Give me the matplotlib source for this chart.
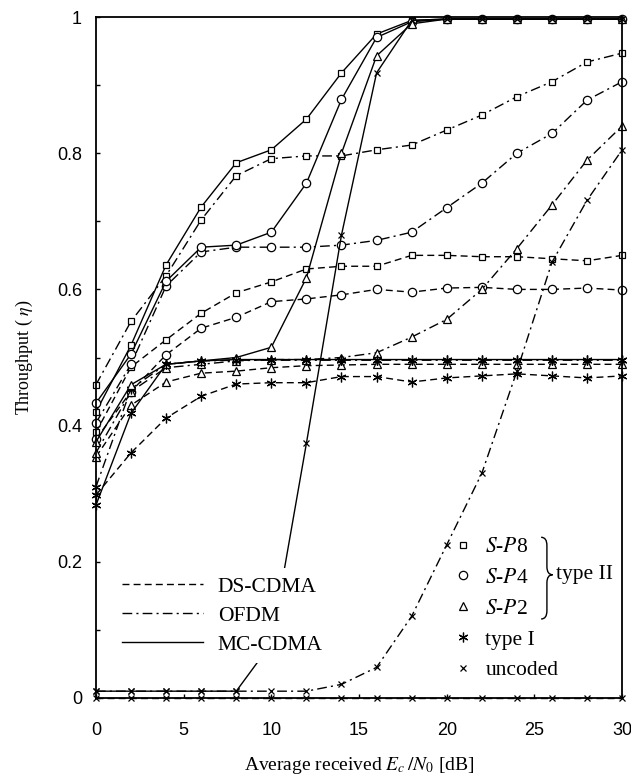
import numpy as np
import matplotlib
matplotlib.use("Agg")
import matplotlib.pyplot as plt
from matplotlib.lines import Line2D
from matplotlib.path import Path
from matplotlib.patches import PathPatch

plt.rcParams['font.family'] = ['Liberation Serif', 'DejaVu Serif']
plt.rcParams['mathtext.fontset'] = 'stix'

# Average received Ec/N0 [dB]
snr = [0, 2, 4, 6, 8, 10, 12, 14, 16, 18, 20, 22, 24, 26, 28, 30]

# DS-CDMA (dashed)
ds_sp8 = [0.39, 0.486, 0.526, 0.565, 0.595, 0.611, 0.630, 0.634, 0.634, 0.650,
          0.650, 0.648, 0.648, 0.645, 0.642, 0.650]
ds_sp4 = [0.38, 0.45, 0.504, 0.543, 0.559, 0.582, 0.586, 0.592, 0.600, 0.596,
          0.602, 0.603, 0.600, 0.600, 0.602, 0.599]
ds_sp2 = [0.354, 0.43, 0.464, 0.477, 0.480, 0.485, 0.488, 0.489, 0.490, 0.490,
          0.490, 0.490, 0.490, 0.490, 0.490, 0.490]
ds_type1 = [0.298, 0.36, 0.411, 0.443, 0.461, 0.463, 0.463, 0.472, 0.472, 0.464,
            0.470, 0.473, 0.476, 0.473, 0.470, 0.473]
ds_uncoded = [0.0] * 16

# OFDM (dash-dot)
of_sp8 = [0.46, 0.553, 0.62, 0.702, 0.767, 0.792, 0.796, 0.796, 0.805, 0.812,
          0.834, 0.856, 0.883, 0.905, 0.934, 0.947]
of_sp4 = [0.404, 0.49, 0.605, 0.655, 0.662, 0.662, 0.662, 0.665, 0.672, 0.684,
          0.720, 0.756, 0.800, 0.829, 0.878, 0.905]
of_sp2 = [0.36, 0.45, 0.485, 0.490, 0.495, 0.497, 0.497, 0.500, 0.507, 0.530,
          0.556, 0.600, 0.660, 0.724, 0.790, 0.840]
of_type1 = [0.31, 0.454, 0.490, 0.495, 0.496, 0.496, 0.496, 0.496, 0.496, 0.496,
            0.496, 0.496, 0.496, 0.496, 0.496, 0.496]
of_uncoded = [0.01, 0.01, 0.01, 0.01, 0.01, 0.01, 0.01, 0.02, 0.045, 0.12,
              0.225, 0.33, 0.48, 0.64, 0.731, 0.805]

# MC-CDMA (solid)
mc_sp8 = [0.42, 0.518, 0.636, 0.721, 0.786, 0.805, 0.850, 0.918, 0.975, 0.995,
          0.997, 0.997, 0.997, 0.997, 0.997, 0.997]
mc_sp4 = [0.433, 0.505, 0.612, 0.662, 0.665, 0.684, 0.756, 0.879, 0.970, 0.993,
          0.997, 0.997, 0.997, 0.997, 0.997, 0.997]
mc_sp2 = [0.376, 0.46, 0.490, 0.495, 0.500, 0.515, 0.617, 0.800, 0.943, 0.990,
          0.997, 0.997, 0.997, 0.997, 0.997, 0.997]
mc_type1 = [0.283, 0.418, 0.490, 0.495, 0.497, 0.497, 0.497, 0.497, 0.497, 0.497,
            0.497, 0.497, 0.497, 0.497, 0.497, 0.497]
mc_uncoded = [0.01, 0.01, 0.01, 0.01, 0.01, 0.08, 0.374, 0.68, 0.918, 0.995,
              0.997, 0.997, 0.997, 0.997, 0.997, 0.997]

DASH = (0, (5, 3))
DASHDOT = (0, (7, 3, 1.5, 3))
SOLID = '-'
AST = (6, 2, 0)

systems = [
    (DASH, [ds_sp8, ds_sp4, ds_sp2, ds_type1, ds_uncoded]),
    (DASHDOT, [of_sp8, of_sp4, of_sp2, of_type1, of_uncoded]),
    (SOLID, [mc_sp8, mc_sp4, mc_sp2, mc_type1, mc_uncoded]),
]
markers = [('s', 5), ('o', 6), ('^', 5.5), (AST, 7), ('x', 5)]

fig = plt.figure(figsize=(6.31, 7.84), dpi=100)
ax = fig.add_axes([0.152, 0.1097, 0.834, 0.8686])

for ls, curves in systems:
    for vals, (mk, ms) in zip(curves, markers):
        ax.plot(snr, vals, color='black', lw=1.0, linestyle=ls,
                marker=mk, markersize=ms, markerfacecolor='white',
                markeredgecolor='black', markeredgewidth=0.9, clip_on=False)

ax.set_xlim(0, 30)
ax.set_ylim(0, 1)
ax.set_xticks([0, 5, 10, 15, 20, 25, 30])
ax.set_yticks(np.arange(0, 1.01, 0.1))
ax.set_yticklabels(['0', '', '0.2', '', '0.4', '', '0.6', '', '0.8', '', '1'])
ax.tick_params(direction='in', length=3, width=1)
ax.tick_params(axis='y', pad=10, labelsize=13)
ax.tick_params(axis='x', pad=17, labelsize=13)
for lab in ax.get_xticklabels() + ax.get_yticklabels():
    lab.set_family(['Liberation Sans', 'DejaVu Sans'])
for sp in ax.spines.values():
    sp.set_linewidth(1.3)

ax.set_xlabel(r'Average received $E_c\,/N_0$ [dB]', fontsize=14, labelpad=12)
ax.set_ylabel(r'Throughput ( $\eta$)', fontsize=13, labelpad=16)

# line style legend (opaque white box, hides curves behind it)
sys_handles = [Line2D([], [], color='black', lw=1.0, linestyle=DASH),
               Line2D([], [], color='black', lw=1.0, linestyle=DASHDOT),
               Line2D([], [], color='black', lw=1.0, linestyle=SOLID)]
leg1 = ax.legend(sys_handles, ['DS-CDMA', 'OFDM', 'MC-CDMA'],
                 loc='lower left', bbox_to_anchor=(0.013, 0.035), frameon=True,
                 fancybox=False, facecolor='white', edgecolor='none',
                 framealpha=1.0, fontsize=15.5, handlelength=3.75,
                 handletextpad=0.7, labelspacing=0.41, borderpad=0.4)
leg1.set_zorder(5)
ax.add_artist(leg1)

# marker legend
mk_handles = [Line2D([], [], color='black', lw=0, marker=mk, markersize=ms,
                     markerfacecolor='white', markeredgewidth=0.9)
              for mk, ms in markers]
mk_labels = [r'$S$-$P$8', r'$S$-$P$4', r'$S$-$P$2', 'type I', 'uncoded']
leg2 = ax.legend(mk_handles, mk_labels, loc='lower left',
                 bbox_to_anchor=(0.657, 0.01), frameon=False, fontsize=15.5,
                 handlelength=1.0, handletextpad=0.53, labelspacing=0.5,
                 borderpad=0)
leg2.set_zorder(5)

# curly brace grouping the type II entries
x0, x1 = 0.846, 0.868
xm = (x0 + x1) / 2
ytop, ymid, ybot = 0.236, 0.181, 0.116
r = 0.012
verts = [(x0, ytop), (xm, ytop), (xm, ytop - r),
         (xm, ymid + r), (xm, ymid), (x1, ymid),
         (xm, ymid), (xm, ymid - r),
         (xm, ybot + r), (xm, ybot), (x0, ybot)]
codes = [Path.MOVETO, Path.CURVE3, Path.CURVE3,
         Path.LINETO, Path.CURVE3, Path.CURVE3,
         Path.CURVE3, Path.CURVE3,
         Path.LINETO, Path.CURVE3, Path.CURVE3]
ax.add_patch(PathPatch(Path(verts, codes), transform=ax.transAxes,
                       fill=False, lw=1.0, edgecolor='black', clip_on=False))
ax.text(0.874, 0.181, 'type II', transform=ax.transAxes, fontsize=15.5,
        va='center', ha='left')

fig.savefig('out.png', dpi=100)
